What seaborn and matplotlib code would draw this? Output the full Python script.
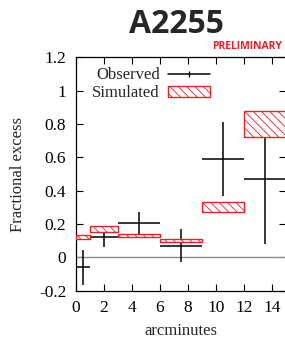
import numpy as np
import matplotlib
matplotlib.use("Agg")
import matplotlib.pyplot as plt
from matplotlib.lines import Line2D
from matplotlib.patches import Patch
import seaborn as sns

# --- data ---
bin_edges = [0, 1, 3, 6, 9, 12, 15]
obs_center = [0.5, 2.0, 4.5, 7.5, 10.5, 13.5]
obs_value = [-0.06, 0.124, 0.204, 0.07, 0.59, 0.47]
obs_err = [0.105, 0.06, 0.066, 0.10, 0.22, 0.39]
sim_low = [0.11, 0.155, 0.12, 0.09, 0.27, 0.72]
sim_high = [0.135, 0.19, 0.14, 0.113, 0.335, 0.88]

x_ticks = [0, 2, 4, 6, 8, 10, 12, 14]
y_ticks = [-0.2, 0, 0.2, 0.4, 0.6, 0.8, 1, 1.2]
y_tick_labels = ["-0.2", "0", "0.2", "0.4", "0.6", "0.8", "1", "1.2"]

sns.set_style("ticks")
plt.rcParams["font.family"] = ["Liberation Serif", "DejaVu Serif"]
plt.rcParams["hatch.linewidth"] = 0.6

RED = "#e8202a"

fig = plt.figure(figsize=(2.85, 3.4), dpi=100)
ax = fig.add_axes([76 / 285, 0.145, 210 / 285, 0.686])

left = np.array(bin_edges[:-1])
width = np.diff(bin_edges)
half = width / 2

ax.axhline(0, color="#8c8c8c", lw=1.0, zorder=1)

# observed crosses (drawn under the boxes, as in the original)
ax.errorbar(obs_center, obs_value, xerr=half, yerr=obs_err, fmt="none",
            ecolor="black", elinewidth=1.1, capsize=0, zorder=2)

# simulated boxes
ax.bar(left, np.array(sim_high) - np.array(sim_low), bottom=sim_low, width=width,
       align="edge", facecolor="white", edgecolor=RED, hatch="\\\\\\\\",
       linewidth=1.0, zorder=3)

ax.set_xlim(0, 15)
ax.set_ylim(-0.2, 1.2)
ax.set_xticks(x_ticks)
ax.set_yticks(y_ticks)
ax.set_yticklabels(y_tick_labels)
ax.tick_params(direction="in", length=5, width=0.8, top=True, right=True,
               labelsize=12.5, pad=7, colors="black")
for s in ax.spines.values():
    s.set_linewidth(0.9)
    s.set_color("black")

ax.set_xlabel("arcminutes", fontsize=12, labelpad=5)
ax.set_ylabel("Fractional excess", fontsize=12, labelpad=9)

obs_handle = Line2D([], [], color="black", lw=1.1, marker="|", markersize=5,
                    markeredgewidth=1.0)
sim_handle = Patch(facecolor="white", edgecolor=RED, hatch="\\\\\\\\", linewidth=1.0)
ax.legend([obs_handle, sim_handle], ["Observed", "Simulated"], loc="upper left",
          frameon=False, fontsize=12, markerfirst=False, handlelength=2.5,
          handleheight=0.6, handletextpad=0.5, labelspacing=0.1,
          borderaxespad=0.2, bbox_to_anchor=(0.03, 1.0))

fig.text(0.62, 0.927, "A2255", ha="center", va="center", fontsize=23,
         fontweight="bold", family=["Open Sans", "DejaVu Sans"])
fig.text(0.99, 0.862, "PRELIMINARY", ha="right", va="center", fontsize=7.5,
         fontweight="bold", color=RED, family=["Open Sans", "DejaVu Sans"])

fig.savefig("out.png", dpi=100)
